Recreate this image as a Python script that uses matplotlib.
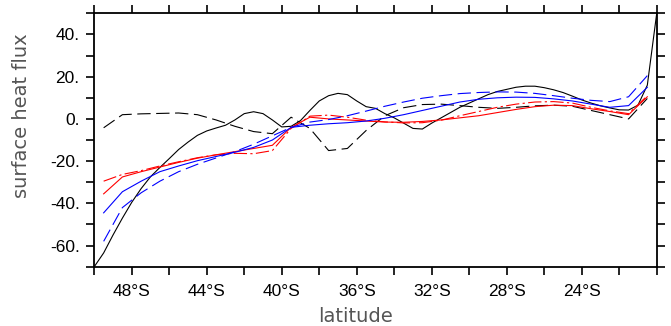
import numpy as np
import matplotlib.pyplot as plt
from matplotlib.ticker import MultipleLocator, FixedLocator, FuncFormatter

plt.rcParams['font.family'] = ['Liberation Sans', 'DejaVu Sans']

# latitude grid of the model output (degrees, negative = south)
lat = [-49.5, -48.5, -47.5, -46.5, -45.5, -44.5, -43.5, -42.5, -41.5, -40.5,
       -39.5, -38.5, -37.5, -36.5, -35.5, -34.5, -33.5, -32.5, -31.5, -30.5,
       -29.5, -28.5, -27.5, -26.5, -25.5, -24.5, -23.5, -22.5, -21.5, -20.5]

red_solid = [-35.5, -27.5, -25.0, -22.8, -20.6, -18.6, -17.0, -15.5, -14.0, -12.5,
             -4.0, 0.8, 0.0, -0.5, -1.0, -1.5, -1.6, -1.2, -0.5, 0.5,
             1.5, 3.0, 4.5, 5.8, 6.5, 6.3, 4.8, 3.5, 2.0, 10.5]
red_dashdot = [-29.5, -26.3, -24.5, -22.3, -20.3, -18.4, -17.0, -16.3, -16.5, -15.0,
               -4.5, 1.3, 1.8, 0.8, -0.6, -1.4, -1.9, -1.8, -0.6, 1.5,
               3.5, 5.5, 7.0, 8.0, 8.2, 7.5, 5.5, 3.8, 2.5, 11.0]
blue_solid = [-44.5, -34.5, -29.5, -25.0, -22.3, -19.8, -17.8, -15.8, -13.5, -10.0,
              -4.0, -3.0, -2.3, -1.8, -1.0, 0.3, 2.0, 4.0, 6.0, 8.0,
              9.3, 10.0, 10.3, 10.2, 9.5, 8.5, 7.0, 5.5, 6.3, 15.0]
blue_dashed = [-58.0, -42.0, -35.0, -29.5, -25.0, -21.5, -18.5, -15.5, -12.0, -8.0,
               -4.0, -1.5, -0.3, 1.5, 3.7, 6.0, 8.0, 9.8, 11.0, 12.0,
               12.5, 12.8, 12.7, 12.1, 11.0, 9.8, 8.8, 8.2, 10.5, 20.5]
black_dashed = [-4.2, 2.0, 2.4, 2.6, 2.8, 2.0, -0.5, -3.5, -6.0, -7.0,
                0.8, -4.5, -15.0, -14.0, -5.5, 1.5, 5.3, 6.8, 7.0, 6.3,
                5.5, 5.0, 5.5, 6.2, 6.5, 6.0, 4.0, 2.0, 0.0, 9.7]

# black solid curve is on a finer grid
lat_fine = [-50.0, -49.5, -49.0, -48.5, -48.0, -47.5, -47.0, -46.5, -46.0, -45.5,
            -45.0, -44.5, -44.0, -43.5, -43.0, -42.5, -42.0, -41.5, -41.0, -40.5,
            -40.0, -39.5, -39.0, -38.5, -38.0, -37.5, -37.0, -36.5, -36.0, -35.5,
            -35.0, -34.5, -34.0, -33.5, -33.0, -32.5, -32.0, -31.5, -31.0, -30.5,
            -30.0, -29.5, -29.0, -28.5, -28.0, -27.5, -27.0, -26.5, -26.0, -25.5,
            -25.0, -24.5, -24.0, -23.5, -23.0, -22.5, -22.0, -21.5, -21.0, -20.5,
            -20.25, -20.0]
black_solid = [-70.0, -63.5, -55.0, -47.0, -39.5, -33.0, -27.4, -23.0, -18.8, -14.5,
               -11.0, -7.8, -5.7, -4.3, -3.0, -0.5, 2.5, 3.4, 2.5, -0.5,
               -3.8, -3.5, -0.8, 4.0, 8.5, 11.0, 12.1, 11.5, 8.5, 5.8,
               5.0, 2.5, 0.5, -2.0, -4.5, -4.8, -2.0, 0.5, 3.0, 5.5,
               7.5, 9.5, 11.5, 13.0, 14.0, 15.0, 15.5, 15.5, 14.8, 13.8,
               12.5, 10.8, 9.0, 7.5, 6.2, 5.2, 4.3, 4.2, 6.5, 16.0,
               33.0, 50.0]

xticks = [-48, -44, -40, -36, -32, -28, -24]

fig = plt.figure(figsize=(6.71, 3.26), dpi=100)
ax = fig.add_axes([0.1405, 0.182, 0.8382, 0.777])

lw = 0.8
ax.plot(lat_fine, black_solid, color='black', lw=lw)
ax.plot(lat, black_dashed, color='black', lw=lw, dashes=(12, 5))
ax.plot(lat, red_solid, color='red', lw=lw)
ax.plot(lat, red_dashdot, color='red', lw=lw, dashes=(12, 3, 2, 3))
ax.plot(lat, blue_solid, color='blue', lw=lw)
ax.plot(lat, blue_dashed, color='blue', lw=lw, dashes=(12, 5))

ax.set_xlim(-50, -20)
ax.set_ylim(-70, 50)

ax.xaxis.set_major_locator(FixedLocator(xticks))
ax.xaxis.set_minor_locator(MultipleLocator(2))
ax.yaxis.set_major_locator(MultipleLocator(20))
ax.yaxis.set_minor_locator(MultipleLocator(10))
ax.xaxis.set_major_formatter(FuncFormatter(lambda v, p: f"{abs(v):.0f}\u00b0S"))
ax.yaxis.set_major_formatter(FuncFormatter(lambda v, p: f"{v:.0f}."))

for which in ('major', 'minor'):
    ax.tick_params(which=which, direction='out', length=5.5, width=1.2,
                   top=True, right=True, labeltop=False, labelright=False)
ax.tick_params(axis='both', labelsize=12.5)
ax.tick_params(axis='y', pad=5)
ax.tick_params(axis='x', pad=7)

for s in ax.spines.values():
    s.set_linewidth(1.3)

# axis titles (NCL places them a bit off-centre)
ax.set_xlabel('latitude', fontsize=14, color='#555555', family='DejaVu Sans')
ax.set_ylabel('surface heat flux', fontsize=14, color='#555555', family='DejaVu Sans')
ax.xaxis.label.set_va('center')
ax.yaxis.label.set_va('center')
ax.xaxis.set_label_coords(0.465, -0.195)
ax.yaxis.set_label_coords(-0.1286, 0.595)

fig.savefig('out.png', dpi=100)
